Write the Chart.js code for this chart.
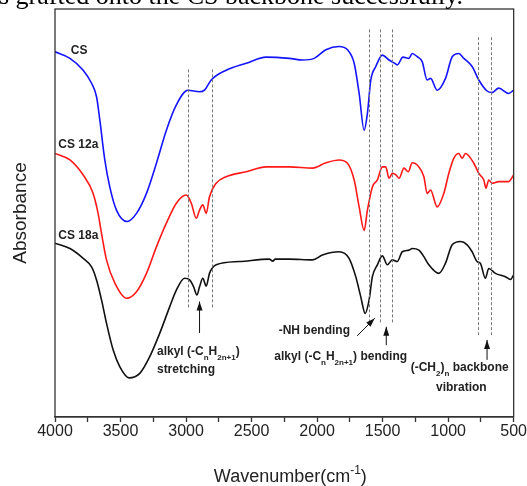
<!DOCTYPE html>
<html>
<head>
<meta charset="utf-8">
<script src="https://cdn.jsdelivr.net/npm/chart.js@4.4.1/dist/chart.umd.min.js"></script>
<style>
  html, body { margin: 0; padding: 0; background: #fff; }
  #wrap { position: relative; width: 527px; height: 486px; }
</style>
</head>
<body>
<div id="wrap"><canvas id="ftir"></canvas></div>
<script>
// spectra: wavenumber (cm-1) and absorbance (arbitrary, stacked)
const csWave = [4000, 3886, 3785, 3721, 3683, 3658, 3620, 3582, 3531, 3450, 3378, 3302, 3226, 3150, 3074, 2986, 2897, 2859, 2808, 2694, 2541, 2389, 2212, 2111, 2022, 1933, 1832, 1768, 1717, 1679, 1641, 1616, 1590, 1552, 1502, 1451, 1413, 1388, 1345, 1299, 1274, 1236, 1198, 1160, 1134, 1084, 1020, 969, 919, 880, 817, 766, 703, 665, 614, 538, 500]
const csAbs = [89.5, 87.9, 85.0, 81.8, 78.5, 72.8, 63.0, 56.4, 50.7, 47.9, 49.9, 54.8, 62.2, 70.3, 76.5, 80.1, 79.7, 80.1, 82.6, 85.0, 86.7, 88.2, 87.9, 87.5, 87.9, 90.0, 90.8, 90.0, 86.7, 79.3, 70.3, 74.4, 82.6, 85.9, 88.7, 87.5, 86.8, 86.3, 88.2, 87.9, 89.1, 88.3, 87.1, 82.6, 83.0, 80.1, 83.0, 88.3, 89.1, 87.9, 85.9, 82.6, 79.9, 79.5, 80.6, 79.3, 80.1]

const cs12Wave = [4000, 3886, 3785, 3709, 3671, 3645, 3607, 3543, 3454, 3378, 3302, 3226, 3150, 3074, 2998, 2960, 2922, 2897, 2872, 2846, 2821, 2770, 2694, 2541, 2389, 2212, 2035, 1933, 1832, 1768, 1717, 1679, 1641, 1616, 1578, 1540, 1502, 1476, 1451, 1426, 1396, 1375, 1337, 1304, 1274, 1223, 1185, 1160, 1134, 1084, 1033, 995, 957, 919, 893, 868, 804, 766, 728, 711, 690, 665, 614, 538, 500]
const cs12Abs = [64.6, 63.0, 59.3, 54.8, 49.9, 45.0, 38.5, 32.8, 29.1, 30.7, 35.2, 41.7, 47.5, 52.4, 54.4, 52.4, 48.7, 50.7, 52.0, 49.9, 54.0, 57.3, 58.9, 60.1, 61.3, 61.3, 61.0, 62.3, 63.0, 62.2, 58.1, 51.5, 45.7, 50.7, 56.4, 58.1, 61.3, 61.3, 58.5, 59.7, 59.3, 58.5, 61.0, 60.1, 62.3, 61.3, 58.9, 54.8, 55.6, 51.5, 54.8, 59.7, 63.4, 64.6, 63.4, 64.6, 62.2, 59.7, 58.1, 56.1, 58.1, 57.3, 57.7, 57.7, 59.3]

const cs18Wave = [4000, 3886, 3785, 3721, 3683, 3645, 3607, 3556, 3505, 3435, 3353, 3277, 3201, 3125, 3074, 3011, 2973, 2942, 2917, 2897, 2872, 2846, 2821, 2770, 2592, 2364, 2339, 2318, 2212, 2035, 1959, 1832, 1756, 1705, 1667, 1633, 1603, 1578, 1540, 1502, 1464, 1426, 1388, 1350, 1299, 1274, 1223, 1185, 1147, 1071, 1020, 969, 906, 855, 817, 779, 754, 716, 690, 639, 563, 525, 500]
const cs18Abs = [42.6, 41.3, 38.9, 36.8, 33.6, 28.7, 23.0, 16.4, 12.3, 9.6, 10.7, 14.8, 20.5, 27.0, 31.1, 34.0, 33.6, 31.9, 29.9, 31.9, 34.0, 32.1, 35.2, 37.3, 38.1, 38.7, 38.2, 38.7, 38.7, 38.5, 39.7, 40.5, 38.9, 34.4, 29.5, 25.4, 28.7, 34.4, 37.3, 39.5, 37.3, 38.5, 38.1, 40.5, 40.9, 41.3, 40.9, 39.3, 37.3, 35.2, 37.7, 42.2, 43.0, 42.2, 40.5, 38.1, 37.7, 34.0, 36.4, 35.2, 34.4, 33.7, 34.8]

const seriesNames = ['CS', 'CS 12a', 'CS 18a']
const seriesColors = ['rgb(20,20,255)', 'rgb(255,25,25)', '#111']
const nameWave = [3880, 3975, 3975]
const nameAbs = [89.0, 65.9, 43.6]

// x axis
const waveMin = 500
const waveMax = 4000
const tickStep = 250
const labelStep = 500

// dashed guide lines
const guideWave = [2985, 2805, 1603, 1522, 1426, 772, 675]
const guideTop = [85.2, 85.2, 95.0, 95.0, 95.0, 93.1, 93.1]
const guideBottom = [26.7, 26.7, 23.0, 23.0, 23.0, 19.7, 19.7]

// arrows: from (tail) -> to (head)
const arrowFromWave = [2897, 1694, 1472, 703]
const arrowFromAbs = [20.6, 19.9, 17.6, 14.0]
const arrowToWave = [2897, 1560, 1472, 703]
const arrowToAbs = [28.3, 24.2, 22.1, 18.9]

// annotation texts, parts: [text, 0 normal | 1 subscript]
const noteParts = [
  [['alkyl (-C', 0], ['n', 1], ['H', 0], ['2n+1', 1], [')', 0]],
  [['stretching', 0]],
  [['-NH bending', 0]],
  [['alkyl (-C', 0], ['n', 1], ['H', 0], ['2n+1', 1], [') bending', 0]],
  [['(-CH', 0], ['2', 1], [')', 0], ['n', 1], [' backbone', 0]],
  [['vibration', 0]]
]
const noteWave = [3222, 3222, 2293, 2326, 1286, 899]
const noteAbs = [15.2, 10.8, 20.3, 14.0, 11.3, 6.4]
const noteAlign = ['left', 'left', 'left', 'left', 'left', 'center']

function pairs(xs, ys) {
  return xs.map((x, i) => ({ x: x, y: ys[i] }))
}

function drawRich(ctx, parts, x, y, size, weight, align) {
  const fontOf = k => weight + ' ' + (k ? Math.round(size * 0.66) : size) + 'px "Liberation Sans", Arial, sans-serif'
  let w = 0
  parts.forEach(p => { ctx.font = fontOf(p[1]); w += ctx.measureText(p[0]).width })
  let cx = align === 'center' ? x - w / 2 : x
  ctx.textAlign = 'left'
  ctx.textBaseline = 'alphabetic'
  parts.forEach(p => {
    ctx.font = fontOf(p[1])
    const dy = p[1] === 1 ? size * 0.45 : p[1] === 2 ? -size * 0.45 : 0
    ctx.fillText(p[0], cx, y + dy)
    cx += ctx.measureText(p[0]).width
  })
}

const decorations = {
  id: 'decorations',
  afterDraw(chart) {
    const ctx = chart.ctx
    const xs = chart.scales.x
    const ys = chart.scales.y
    const area = chart.chartArea
    ctx.save()

    // frame
    ctx.strokeStyle = '#333'
    ctx.lineWidth = 1.3
    ctx.strokeRect(area.left, area.top, area.right - area.left, area.bottom - area.top)

    // guide lines
    ctx.strokeStyle = '#777'
    ctx.lineWidth = 1
    ctx.setLineDash([3, 2])
    guideWave.forEach((w, i) => {
      const px = Math.round(xs.getPixelForValue(w)) + 0.5
      ctx.beginPath()
      ctx.moveTo(px, ys.getPixelForValue(guideTop[i]))
      ctx.lineTo(px, ys.getPixelForValue(guideBottom[i]))
      ctx.stroke()
    })
    ctx.setLineDash([])

    // arrows
    ctx.strokeStyle = '#111'
    ctx.fillStyle = '#111'
    ctx.lineWidth = 1
    arrowFromWave.forEach((w, i) => {
      const x0 = xs.getPixelForValue(w), y0 = ys.getPixelForValue(arrowFromAbs[i])
      const x1 = xs.getPixelForValue(arrowToWave[i]), y1 = ys.getPixelForValue(arrowToAbs[i])
      const ang = Math.atan2(y1 - y0, x1 - x0)
      ctx.beginPath()
      ctx.moveTo(x0, y0)
      ctx.lineTo(x1, y1)
      ctx.stroke()
      ctx.beginPath()
      ctx.moveTo(x1, y1)
      ctx.lineTo(x1 - 9 * Math.cos(ang) + 3 * Math.sin(ang), y1 - 9 * Math.sin(ang) - 3 * Math.cos(ang))
      ctx.lineTo(x1 - 9 * Math.cos(ang) - 3 * Math.sin(ang), y1 - 9 * Math.sin(ang) + 3 * Math.cos(ang))
      ctx.closePath()
      ctx.fill()
    })

    // series names
    ctx.fillStyle = '#222'
    seriesNames.forEach((n, i) => {
      drawRich(ctx, [[n, 0]], xs.getPixelForValue(nameWave[i]), ys.getPixelForValue(nameAbs[i]), 12, 'bold', 'left')
    })

    // annotations
    noteParts.forEach((p, i) => {
      drawRich(ctx, p, xs.getPixelForValue(noteWave[i]), ys.getPixelForValue(noteAbs[i]), 12, 'bold', noteAlign[i])
    })

    // axis titles
    drawRich(ctx, [['Wavenumber(cm', 0], ['-1', 2], [')', 0]], (area.left + area.right) / 2 + 6, 482, 18, 'normal', 'center')
    ctx.translate(26, 213)
    ctx.rotate(-Math.PI / 2)
    drawRich(ctx, [['Absorbance', 0]], 0, 0, 19, 'normal', 'center')
    ctx.setTransform(1, 0, 0, 1, 0, 0)

    // cropped caption line of the page above the figure
    ctx.fillStyle = '#000'
    ctx.font = '26px "Liberation Serif", "Times New Roman", serif'
    ctx.textAlign = 'right'
    ctx.textBaseline = 'alphabetic'
    ctx.fillText('s grafted onto the CS backbone successfully.', 463, 4)
    ctx.restore()
  }
}

new Chart(document.getElementById('ftir'), {
  type: 'line',
  data: {
    datasets: [
      { label: seriesNames[0], data: pairs(csWave, csAbs), borderColor: seriesColors[0] },
      { label: seriesNames[1], data: pairs(cs12Wave, cs12Abs), borderColor: seriesColors[1] },
      { label: seriesNames[2], data: pairs(cs18Wave, cs18Abs), borderColor: seriesColors[2] }
    ]
  },
  options: {
    responsive: true,
    maintainAspectRatio: false,
    animation: false,
    layout: { padding: { left: 55, right: 12, top: 9, bottom: 0 } },
    elements: {
      point: { radius: 0 },
      line: { borderWidth: 1.6, cubicInterpolationMode: 'monotone', fill: false }
    },
    plugins: { legend: { display: false }, tooltip: { enabled: false } },
    scales: {
      x: {
        type: 'linear',
        reverse: true,
        min: waveMin,
        max: waveMax,
        afterFit(scale) { scale.height = 69 },
        grid: { drawOnChartArea: false, drawTicks: true, tickLength: 5, color: '#333', tickWidth: 1.3 },
        border: { display: true, color: '#333', width: 1.3 },
        ticks: {
          stepSize: tickStep,
          padding: 0,
          color: '#222',
          font: { family: '"Liberation Sans", Arial, sans-serif', size: 16 },
          maxRotation: 0,
          autoSkip: false,
          callback: v => (v % labelStep === 0 ? v : '')
        }
      },
      y: { display: false, min: 0, max: 100 }
    }
  },
  plugins: [decorations]
})
</script>
</body>
</html>
